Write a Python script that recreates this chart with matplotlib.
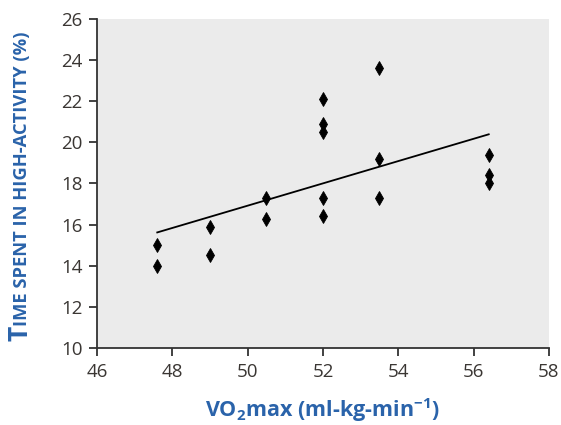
import matplotlib
matplotlib.use("Agg")
import matplotlib.pyplot as plt
import numpy as np

# VO2max (ml-kg-min-1) and time spent in high activity (%)
vo2max = [47.6, 47.6, 49.0, 49.0, 50.5, 50.5, 52.0, 52.0, 52.0, 52.0, 52.0,
          53.5, 53.5, 53.5, 56.4, 56.4, 56.4]
high_activity = [15.0, 14.0, 15.9, 14.5, 17.3, 16.25, 22.1, 20.9, 20.5, 17.3, 16.4,
                 23.6, 19.2, 17.3, 19.4, 18.4, 18.0]

x_ticks = [46, 48, 50, 52, 54, 56, 58]
y_ticks = [10, 12, 14, 16, 18, 20, 22, 24, 26]

blue = '#2a63aa'
tick_col = '#3a3633'
plt.rcParams['font.family'] = ['Open Sans', 'DejaVu Sans']
plt.rcParams['mathtext.default'] = 'regular'

fig = plt.figure(figsize=(5.61, 4.25), dpi=100)
ax = fig.add_axes([0.1729, 0.1812, 0.8057, 0.7741])
ax.set_facecolor('#ebebeb')

ax.plot(vo2max, high_activity, linestyle='none', marker='d', markersize=7,
        color='black', markeredgewidth=0.6)

# least squares line over the observed range
slope, icpt = np.polyfit(vo2max, high_activity, 1)
xs = np.array([min(vo2max), max(vo2max)])
ax.plot(xs, slope * xs + icpt, color='black', linewidth=1.3)

ax.set_xlim(46, 58)
ax.set_ylim(10, 26)
ax.set_xticks(x_ticks)
ax.set_yticks(y_ticks)
for s in ['top', 'right']:
    ax.spines[s].set_visible(False)
for s in ['left', 'bottom']:
    ax.spines[s].set_color('#333333')
    ax.spines[s].set_linewidth(1.3)
ax.tick_params(direction='out', length=6, width=1.3, color='#333333',
               labelsize=13.5, labelcolor=tick_col, pad=4.5)

ax.set_xlabel('VO$_2$max (ml-kg-min$^{-1}$)', fontsize=15.5, fontweight='bold',
              color=blue, labelpad=11)

# y label in small caps: big T followed by smaller capitals
fig.canvas.draw()
r = fig.canvas.get_renderer()
t1 = fig.text(27 / 561, 84 / 425, 'T', rotation=90, rotation_mode='anchor',
              ha='left', va='baseline', fontsize=19, fontweight='bold', color=blue)
w = t1.get_window_extent(r).height
fig.text(27 / 561, (84 + w) / 425, 'IME SPENT IN HIGH-ACTIVITY (%)', rotation=90,
         rotation_mode='anchor', ha='left', va='baseline', fontsize=13.2,
         fontweight='bold', color=blue)

fig.savefig('out.png', dpi=100)
